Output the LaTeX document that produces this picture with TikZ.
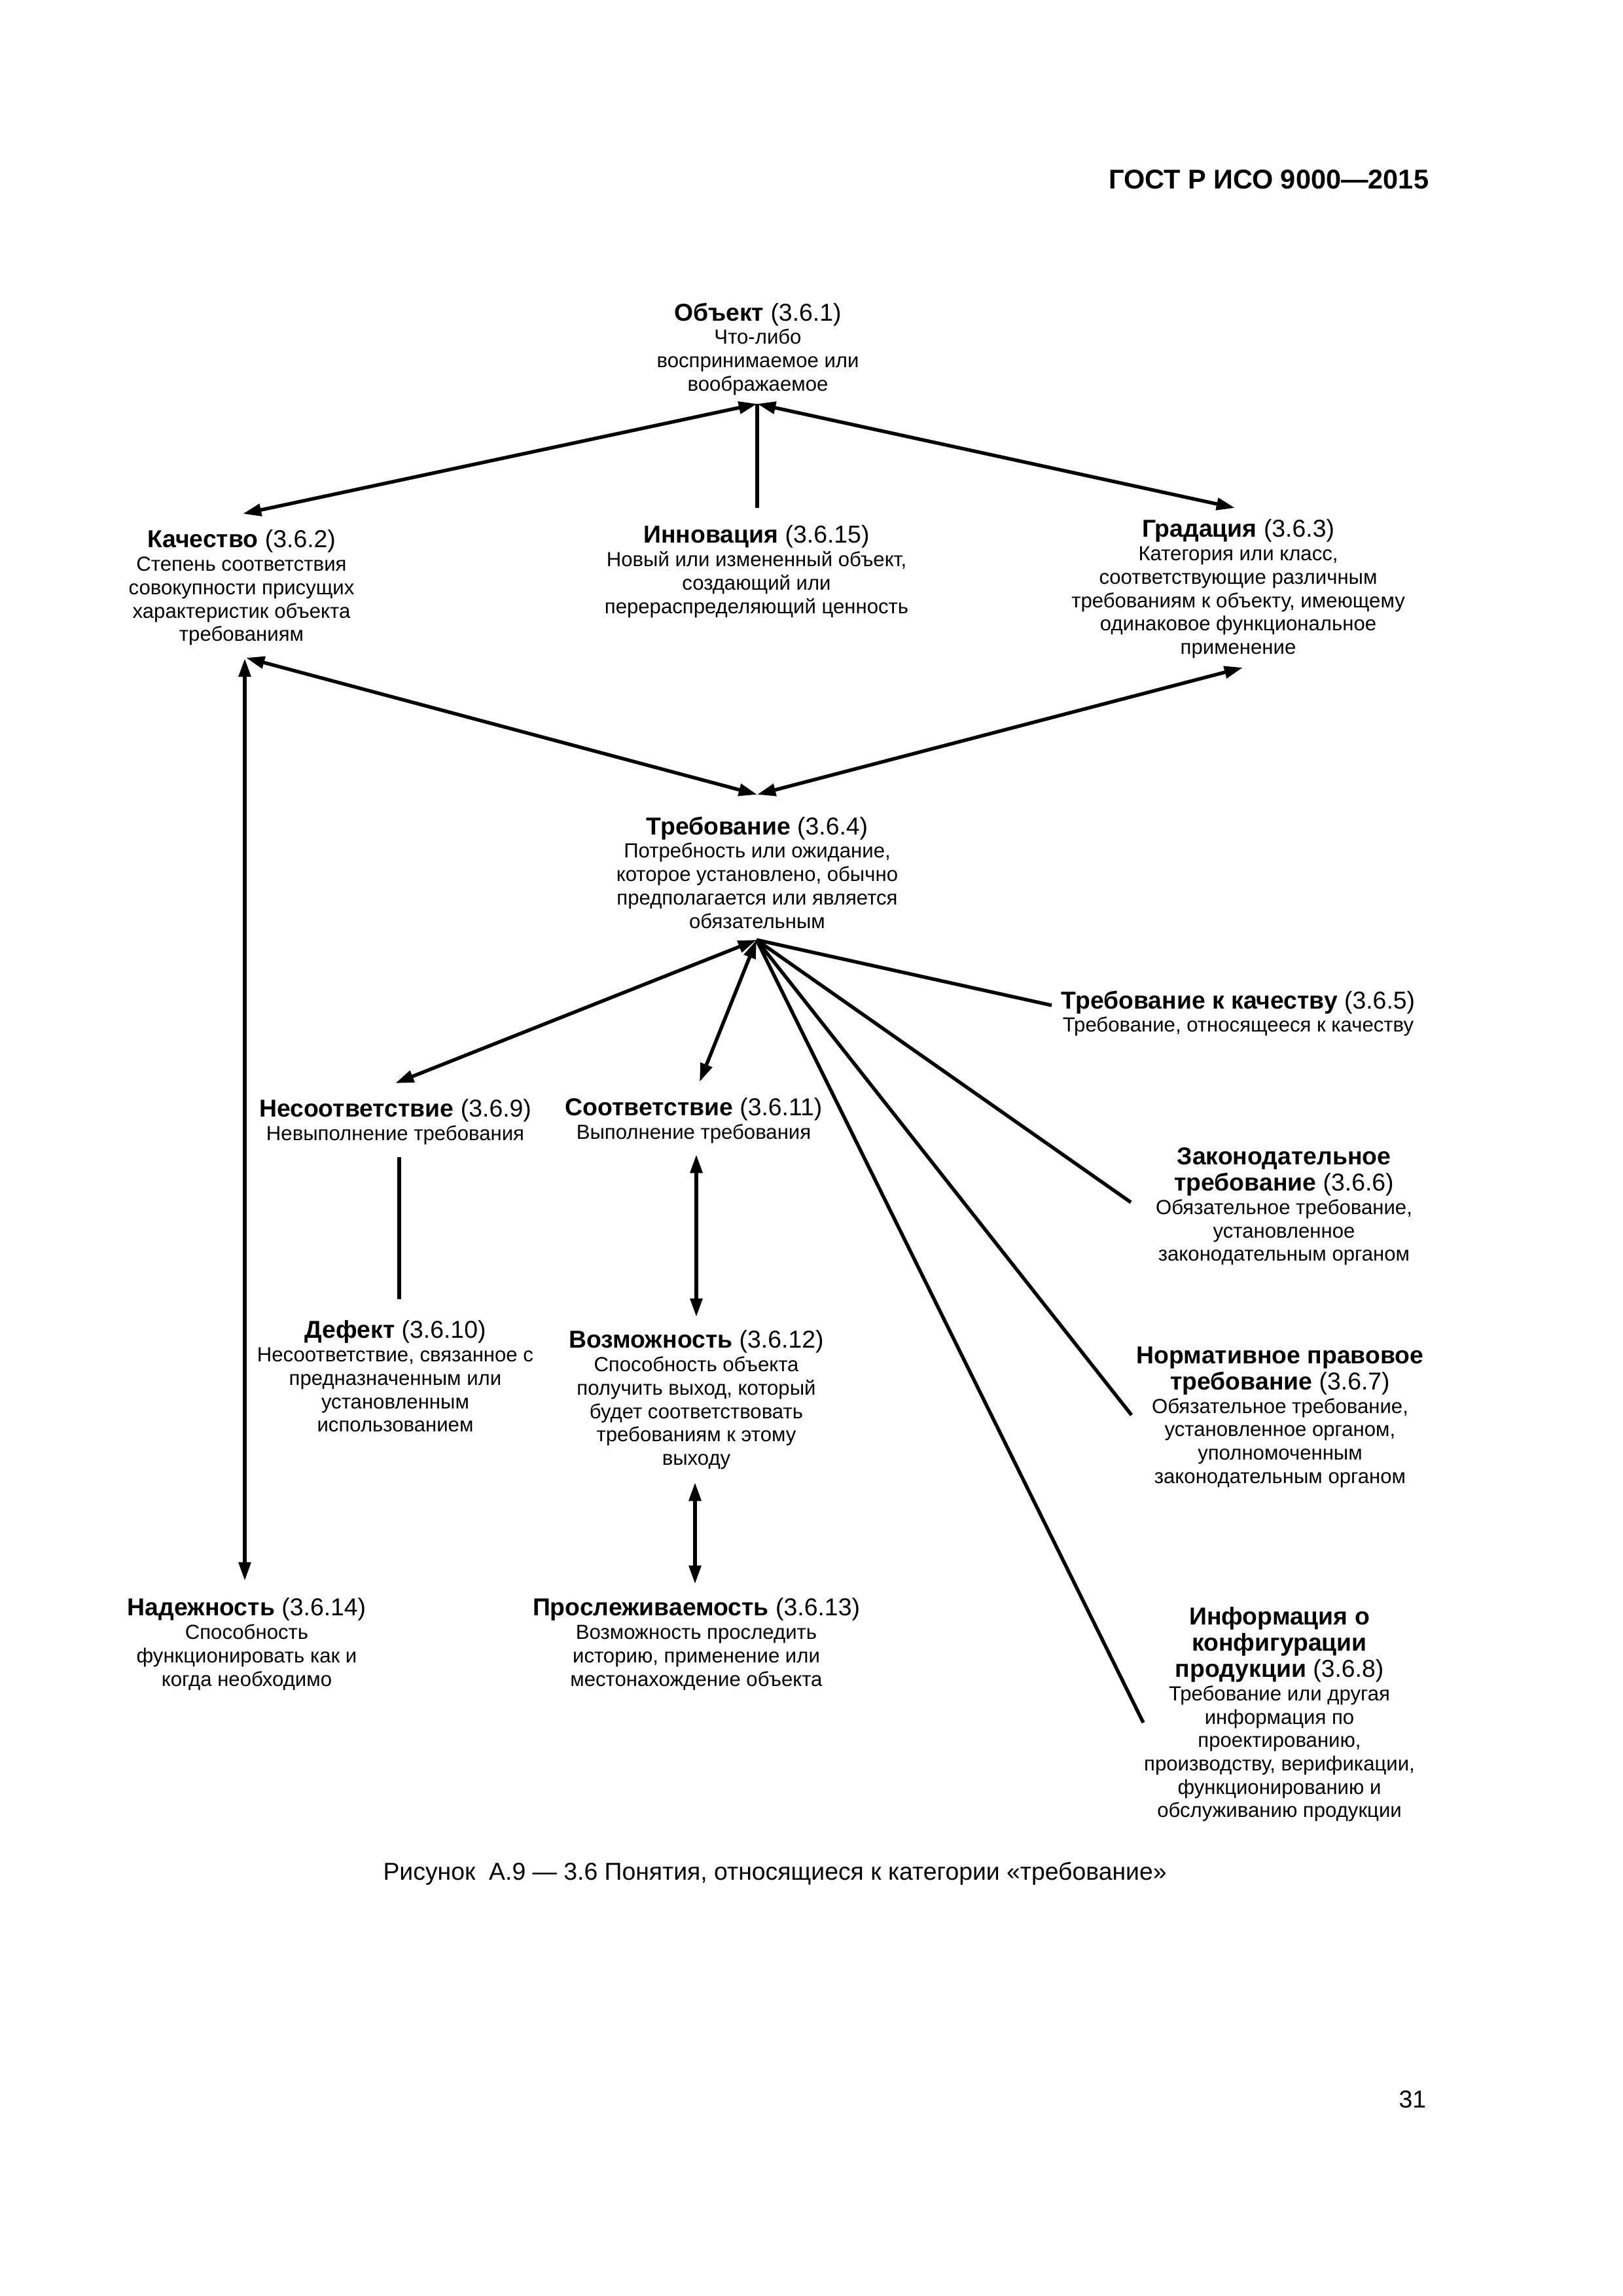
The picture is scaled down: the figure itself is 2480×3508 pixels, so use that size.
\documentclass[tikz,border=0pt]{standalone}
\usepackage{fontspec}
\setmainfont{Liberation Sans}
\usetikzlibrary{arrows.meta}
\newcommand{\ttl}[2]{{\fontsize{9}{10}\selectfont\bfseries #1}{\fontsize{9}{10}\selectfont\ #2}}
\newcommand{\ttb}[1]{{\fontsize{9}{10}\selectfont\bfseries #1}}
\tikzset{
  concept/.style={align=center, inner sep=0pt, anchor=north, font=\fontsize{7.5}{8.6}\selectfont},
  link/.style={line width=1.3pt},
  arr/.style={link, {Triangle[length=6.8pt,width=4.4pt]}-{Triangle[length=6.8pt,width=4.4pt]}},
}
\begin{document}
\begin{tikzpicture}[x=0.0846774mm, y=-0.0846774mm]
\path[fill=white] (0,0) rectangle (2480,3508);
\useasboundingbox (0,0) rectangle (2480,3508);

\node[anchor=base east, inner sep=0pt, font=\fontsize{10}{12}\selectfont\bfseries] (hdr) at (2184,288) {ГОСТ Р ИСО 9000—2015};

\node[concept] (obj) at (1158,462) {\ttl{Объект}{(3.6.1)}\\ Что-либо\\ воспринимаемое или\\ воображаемое};
\node[concept] (kach) at (369,809) {\ttl{Качество}{(3.6.2)}\\ Степень соответствия\\ совокупности присущих\\ характеристик объекта\\ требованиям};
\node[concept] (innov) at (1156,802) {\ttl{Инновация}{(3.6.15)}\\ Новый или измененный объект,\\ создающий или\\ перераспределяющий ценность};
\node[concept] (grad) at (1892,793) {\ttl{Градация}{(3.6.3)}\\ Категория или класс,\\ соответствующие различным\\ требованиям к объекту, имеющему\\ одинаковое функциональное\\ применение};
\node[concept] (treb) at (1157,1247) {\ttl{Требование}{(3.6.4)}\\ Потребность или ожидание,\\ которое установлено, обычно\\ предполагается или является\\ обязательным};
\node[concept] (trkach) at (1892,1513) {\ttl{Требование к качеству}{(3.6.5)}\\ Требование, относящееся к качеству};
\node[concept] (nesoot) at (604,1679) {\ttl{Несоответствие}{(3.6.9)}\\ Невыполнение требования};
\node[concept] (soot) at (1060,1677) {\ttl{Соответствие}{(3.6.11)}\\ Выполнение требования};
\node[concept] (zakon) at (1962,1753) {\ttb{Законодательное}\\[1pt] \ttl{требование}{(3.6.6)}\\ Обязательное требование,\\ установленное\\ законодательным органом};
\node[concept] (defekt) at (604,2017) {\ttl{Дефект}{(3.6.10)}\\ Несоответствие, связанное с\\ предназначенным или\\ установленным\\ использованием};
\node[concept] (vozm) at (1064,2032) {\ttl{Возможность}{(3.6.12)}\\ Способность объекта\\ получить выход, который\\ будет соответствовать\\ требованиям к этому\\ выходу};
\node[concept] (norm) at (1956,2057) {\ttb{Нормативное правовое}\\[1pt] \ttl{требование}{(3.6.7)}\\ Обязательное требование,\\ установленное органом,\\ уполномоченным\\ законодательным органом};
\node[concept] (nadezh) at (377,2441) {\ttl{Надежность}{(3.6.14)}\\ Способность\\ функционировать как и\\ когда необходимо};
\node[concept] (prosl) at (1064,2441) {\ttl{Прослеживаемость}{(3.6.13)}\\ Возможность проследить\\ историю, применение или\\ местонахождение объекта};
\node[concept] (info) at (1955,2455) {\ttb{Информация о}\\[1pt] \ttb{конфигурации}\\[1pt] \ttl{продукции}{(3.6.8)}\\ Требование или другая\\ информация по\\ проектированию,\\ производству, верификации,\\ функционированию и\\ обслуживанию продукции};

\node[anchor=base, inner sep=0pt, font=\fontsize{9}{11}\selectfont] (cap) at (1184,2872) {Рисунок~~А.9 — 3.6 Понятия, относящиеся к категории «требование»};
\node[anchor=base east, inner sep=0pt, font=\fontsize{9}{11}\selectfont] (pg) at (2180,3220) {31};

% connection points
\coordinate (objB) at (1157,617);
\coordinate (kachT) at (371,785);
\coordinate (innT) at (1157,776);
\coordinate (gradT) at (1887,776);
\coordinate (kachBd) at (376,1005);
\coordinate (kachBv) at (374,1006);
\coordinate (gradB) at (1899,1020);
\coordinate (trebT) at (1157,1214);
\coordinate (trebB) at (1156,1436);
\coordinate (nesootT) at (604,1655);
\coordinate (sootT) at (1069,1653);
\coordinate (trkachL) at (1607,1536);
\coordinate (zakonL) at (1728,1837);
\coordinate (normL) at (1729,2162);
\coordinate (infoL) at (1747,2632);
\coordinate (nesootB) at (610,1768);
\coordinate (defektT) at (610,1985);
\coordinate (sootB) at (1064,1764);
\coordinate (vozmT) at (1064,2012);
\coordinate (vozmB) at (1062,2265);
\coordinate (proslT) at (1062,2420);
\coordinate (nadezhT) at (374,2415);

\draw[arr] (kachT) -- (objB);
\draw[link] (innT) -- (objB);
\draw[arr] (gradT) -- (objB);
\draw[arr] (kachBd) -- (trebT);
\draw[arr] (gradB) -- (trebT);
\draw[arr] (kachBv) -- (nadezhT);
\draw[arr] (nesootT) -- (trebB);
\draw[arr] (sootT) -- (trebB);
\draw[link] (trebB) -- (trkachL);
\draw[link] (trebB) -- (zakonL);
\draw[link] (trebB) -- (normL);
\draw[link] (trebB) -- (infoL);
\draw[link] (nesootB) -- (defektT);
\draw[arr] (sootB) -- (vozmT);
\draw[arr] (vozmB) -- (proslT);
\end{tikzpicture}
\end{document}
